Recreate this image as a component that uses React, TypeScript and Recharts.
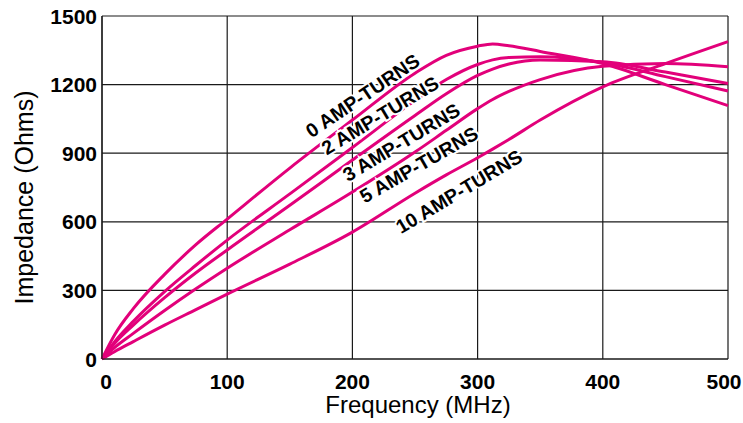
import React from "react";
import {
  CartesianGrid,
  Line,
  LineChart,
  ReferenceDot,
  XAxis,
  YAxis,
} from "recharts";

// frequency in MHz, impedance in ohms
const freq = [0, 10, 25, 50, 75, 100, 150, 200, 250, 275, 300, 312, 325, 350, 400, 450, 500];
const at0 = [0, 105, 220, 370, 500, 612, 835, 1045, 1250, 1328, 1368, 1378, 1370, 1345, 1292, 1200, 1108];
const at2 = [0, 75, 165, 295, 410, 520, 722, 925, 1130, 1222, 1288, 1308, 1318, 1322, 1297, 1235, 1172];
const at3 = [0, 68, 148, 268, 377, 477, 672, 870, 1065, 1160, 1240, 1268, 1290, 1308, 1300, 1255, 1205];
const at5 = [0, 50, 112, 212, 307, 397, 565, 730, 905, 1000, 1095, 1135, 1170, 1222, 1280, 1292, 1278];
const at10 = [0, 32, 76, 148, 216, 284, 415, 555, 725, 805, 880, 918, 960, 1045, 1190, 1292, 1388];

const xTicks = [0, 100, 200, 300, 400, 500];
const yTicks = [0, 300, 600, 900, 1200, 1500];

const seriesKeys = ["at0", "at2", "at3", "at5", "at10"];

// curve labels: text, anchor (MHz, ohms), rotation
const labelText = ["0 AMP-TURNS", "2 AMP-TURNS", "3 AMP-TURNS", "5 AMP-TURNS", "10 AMP-TURNS"];
const labelFreq = [208, 222, 239, 253, 285];
const labelOhms = [1152, 1066, 948, 850, 733];
const labelAngle = [-34, -31, -31, -30, -31];

const data = freq.map((f, i) => ({
  f,
  at0: at0[i],
  at2: at2[i],
  at3: at3[i],
  at5: at5[i],
  at10: at10[i],
}));

const FONT = "'Liberation Sans', Arial, Helvetica, sans-serif";
const PINK = "#e2007a";

function XTick({ x, y, payload }: any) {
  // end labels sit just inside the frame
  const shift = payload.value === 0 ? 4 : payload.value === 500 ? -4 : 0;
  return (
    <text x={x + shift} y={y + 30} textAnchor="middle" fontFamily={FONT} fontSize={21} fontWeight="bold" fill="#000">
      {payload.value}
    </text>
  );
}

function YTick({ x, y, payload }: any) {
  return (
    <text x={x - 5} y={y} dy="0.36em" textAnchor="end" fontFamily={FONT} fontSize={21} fontWeight="bold" fill="#000">
      {payload.value}
    </text>
  );
}

export default function App() {
  return (
    <div>
      <style>{"body{margin:0}"}</style>
      <LineChart
        width={743}
        height={423}
        data={data}
        margin={{ top: 16, right: 15, left: 0, bottom: 0 }}
      >
        <CartesianGrid stroke="#1a1a1a" strokeWidth={1.2} />
        <XAxis
          dataKey="f"
          type="number"
          domain={[0, 500]}
          ticks={xTicks}
          height={64}
          tickSize={0}
          tickMargin={0}
          tickLine={false}
          axisLine={{ stroke: "#1a1a1a", strokeWidth: 1.2 }}
          tick={<XTick />}
          label={{
            content: ({ viewBox }: any) => (
              <text
                x={viewBox.x + viewBox.width / 2 + 3}
                y={viewBox.y + 54}
                textAnchor="middle"
                fontFamily={FONT}
                fontSize={24}
                fill="#000"
              >
                Frequency (MHz)
              </text>
            ),
          }}
        />
        <YAxis
          type="number"
          domain={[0, 1500]}
          ticks={yTicks}
          width={102}
          tickSize={0}
          tickMargin={0}
          tickLine={false}
          axisLine={{ stroke: "#1a1a1a", strokeWidth: 1.2 }}
          tick={<YTick />}
          label={{
            content: ({ viewBox }: any) => {
              const cx = 33;
              const cy = viewBox.y + viewBox.height / 2 + 10;
              return (
                <text
                  x={cx}
                  y={cy}
                  transform={`rotate(-90 ${cx} ${cy})`}
                  textAnchor="middle"
                  fontFamily={FONT}
                  fontSize={25}
                  fill="#000"
                >
                  Impedance (Ohms)
                </text>
              );
            },
          }}
        />
        {seriesKeys.map((k) => (
          <Line
            key={k}
            type="monotone"
            dataKey={k}
            stroke={PINK}
            strokeWidth={3}
            dot={false}
            activeDot={false}
            isAnimationActive={false}
          />
        ))}
        {labelText.map((t, i) => (
          <ReferenceDot
            key={t}
            x={labelFreq[i]}
            y={labelOhms[i]}
            r={0}
            shape={(p: any) => (
              <text
                x={p.cx}
                y={p.cy}
                dy="0.36em"
                transform={`rotate(${labelAngle[i]} ${p.cx} ${p.cy})`}
                textAnchor="middle"
                fontFamily={FONT}
                fontSize={19.5}
                fontWeight="bold"
                fill="#000"
                stroke="#fff"
                strokeWidth={4}
                paintOrder="stroke"
              >
                {t}
              </text>
            )}
          />
        ))}
      </LineChart>
    </div>
  );
}
